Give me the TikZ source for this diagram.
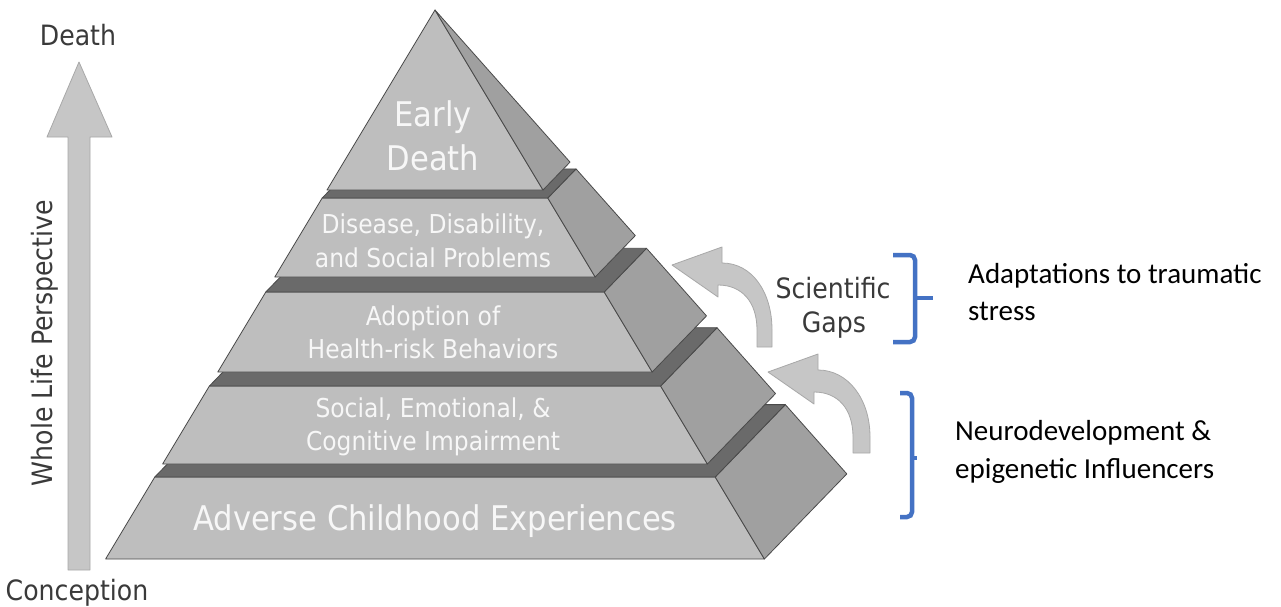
\documentclass[tikz,border=0pt]{standalone}
\usepackage{fontspec}
\newfontfamily\pyrfont[FakeStretch=0.9]{DejaVu Sans}
\newfontfamily\calfont{Carlito}
\definecolor{frontgray}{HTML}{BEBEBE}
\definecolor{sidegray}{HTML}{A0A0A0}
\definecolor{stepdark}{HTML}{6A6A6A}
\definecolor{edgegray}{HTML}{4A4A4A}
\definecolor{arrowgray}{HTML}{C6C6C6}
\definecolor{arrowedge}{HTML}{A8A8A8}
\definecolor{labelgray}{HTML}{3A3A3A}
\definecolor{braceblue}{HTML}{4472C4}
\begin{document}
\begin{tikzpicture}[x=1pt,y=-1pt,
  frontface/.style={fill=frontgray,draw=edgegray,line width=0.8pt,line join=round},
  sideface/.style={fill=sidegray,draw=edgegray,line width=0.8pt,line join=round},
  topface/.style={fill=stepdark,draw=edgegray,line width=0.8pt,line join=round},
  pyrtext/.style={text=white!94!gray,font=\pyrfont\fontsize{26}{30}\selectfont,anchor=base,inner sep=0pt},
  bigtext/.style={pyrtext,font=\pyrfont\fontsize{34}{40}\selectfont},
  lbl/.style={text=labelgray,font=\pyrfont\fontsize{28}{32}\selectfont,anchor=base,inner sep=0pt},
  note/.style={text=black,font=\calfont\fontsize{29}{36}\selectfont,anchor=base west,inner sep=0pt},
  brace/.style={draw=braceblue,line width=4.5pt,rounded corners=5pt},
  grayarrow/.style={fill=arrowgray,draw=arrowedge,line width=0.8pt,line join=round}]
\useasboundingbox (0,0) rectangle (1281,607);
\fill[white] (0,0) rectangle (1281,607);

% ---- life arrow ----
\draw[grayarrow] (68,570) -- (68,137) -- (47,137) -- (79,62) -- (112,137) -- (90,137) -- (90,570) -- cycle;
\node[lbl] (death) at (78,46) {Death};
\node[lbl] (conception) at (77,600) {Conception};
\node[lbl,rotate=90] (whole) at (52,343) {Whole Life Perspective};

% ---- level 5 ----
\draw[frontface] (154.8,477) -- (715.2,477) -- (764.4,559) -- (105.6,559) -- cycle;
\draw[sideface] (715.2,477) -- (785.3,404.6) -- (846.8,473.9) -- (764.4,559) -- cycle;
\draw[topface] (154.8,477) -- (715.2,477) -- (785.3,404.6) -- (224.9,404.6) -- cycle;
% ---- level 4 ----
\draw[frontface] (209.4,386) -- (660.6,386) -- (707.4,464) -- (162.6,464) -- cycle;
\draw[sideface] (660.6,386) -- (717,327.7) -- (775.5,393.6) -- (707.4,464) -- cycle;
\draw[topface] (209.4,386) -- (660.6,386) -- (717,327.7) -- (265.8,327.7) -- cycle;
% ---- level 3 ----
\draw[frontface] (265.8,292) -- (604.2,292) -- (652.2,372) -- (217.8,372) -- cycle;
\draw[sideface] (604.2,292) -- (646.5,248.3) -- (706.5,315.9) -- (652.2,372) -- cycle;
\draw[topface] (265.8,292) -- (604.2,292) -- (646.5,248.3) -- (308.1,248.3) -- cycle;
% ---- level 2 ----
\draw[frontface] (322.2,198) -- (547.8,198) -- (595.2,277) -- (274.8,277) -- cycle;
\draw[sideface] (547.8,198) -- (576,168.9) -- (635.3,235.6) -- (595.2,277) -- cycle;
\draw[topface] (322.2,198) -- (547.8,198) -- (576,168.9) -- (350.4,168.9) -- cycle;
% ---- level 1 ----
\draw[frontface] (435,10) -- (543,190) -- (327,190) -- cycle;
\draw[sideface] (435,10) -- (570,162.1) -- (543,190) -- cycle;

% ---- pyramid texts ----
\node[bigtext] (early1) at (433,127) {Early};
\node[bigtext] (early2) at (433,170) {Death};
\node[pyrtext] (dis1) at (433,233) {Disease, Disability,};
\node[pyrtext] (dis2) at (433,267) {and Social Problems};
\node[pyrtext] (ado1) at (433,325) {Adoption of};
\node[pyrtext] (ado2) at (433,358) {Health-risk Behaviors};
\node[pyrtext] (soc1) at (433,417) {Social, Emotional, \&};
\node[pyrtext] (soc2) at (433,450) {Cognitive Impairment};
\node[bigtext] (ace) at (435,530) {Adverse Childhood Experiences};

% ---- curved arrows ----
\draw[grayarrow] (757,347) -- (757,330) .. controls (757,302) and (742,285) .. (718,285) -- (718,297) -- (672,265) -- (722,247) -- (722,263) .. controls (752,263) and (772,292) .. (772,330) -- (772,347) -- cycle;
\draw[grayarrow] (853,453) -- (853,437) .. controls (853,409) and (838,392) .. (814,392) -- (814,404) -- (768,372) -- (818,354) -- (818,370) .. controls (848,370) and (870,399) .. (870,437) -- (870,453) -- cycle;
\node[lbl] (sci1) at (833,298) {Scientific};
\node[lbl] (sci2) at (834,332) {Gaps};

% ---- braces ----
\draw[brace] (893,255) -- (915,255) -- (915,342) -- (893,342);
\draw[draw=braceblue,line width=4.5pt] (915,298) -- (933,298);
\draw[brace] (900,393) -- (912,393) -- (912,517) -- (900,517);
\draw[draw=braceblue,line width=4pt] (912,458) -- (917,458);

% ---- notes ----
\node[note] (ad1) at (968,283) {Adaptations to traumatic};
\node[note] (ad2) at (968,320) {stress};
\node[note] (neu1) at (955,440) {Neurodevelopment \&};
\node[note] (neu2) at (955,478) {epigenetic Influencers};
\end{tikzpicture}
\end{document}
